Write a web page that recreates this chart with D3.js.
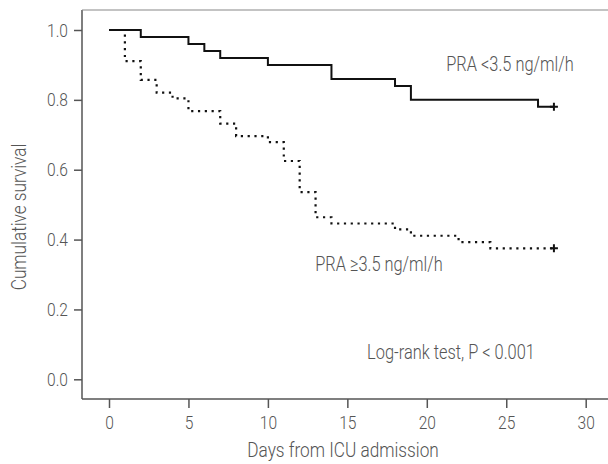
<!DOCTYPE html>
<html>
<head>
<meta charset="utf-8">
<script src="https://cdn.jsdelivr.net/npm/d3@7"></script>
<style>
  body { margin: 0; background: #fff; }
  text { font-family: "Roboto", "Liberation Sans", sans-serif; font-weight: 300; fill: #555; }
</style>
</head>
<body>
<svg width="608" height="464"></svg>
<script>
const svg = d3.select("svg");

// low PRA group (<3.5 ng/ml/h)
const lowDays = [0, 2, 5, 6, 7, 10, 14, 18, 19, 27, 28];
const lowSurv = [1.0, 0.98, 0.96, 0.94, 0.92, 0.90, 0.86, 0.84, 0.80, 0.78, 0.78];
// high PRA group (>=3.5 ng/ml/h)
const highDays = [0, 1, 2, 3, 4, 5, 7, 8, 10, 11, 12, 13, 14, 18, 19, 22, 24, 28];
const highSurv = [1.0, 0.911, 0.857, 0.821, 0.804, 0.768, 0.732, 0.696, 0.679, 0.625, 0.536, 0.464, 0.446, 0.429, 0.411, 0.393, 0.375, 0.375];

const xTicks = [0, 5, 10, 15, 20, 25, 30];
const yTicks = [0, 0.2, 0.4, 0.6, 0.8, 1.0];

const x = d3.scaleLinear().domain([0, 30]).range([109, 585.7]);
const y = d3.scaleLinear().domain([0, 1]).range([379.3, 30]);

const frameL = 82, frameB = 399, frameT = 10, frameR = 608;
const sx = 0.82; // condensed look

// frame
svg.append("line").attr("x1", frameL).attr("x2", frameL).attr("y1", frameT).attr("y2", frameB)
  .attr("stroke", "#555").attr("stroke-width", 1.5);
svg.append("line").attr("x1", frameL).attr("x2", frameR).attr("y1", frameB).attr("y2", frameB)
  .attr("stroke", "#555").attr("stroke-width", 1.5);
svg.append("line").attr("x1", frameL).attr("x2", frameR).attr("y1", frameT).attr("y2", frameT)
  .attr("stroke", "#888").attr("stroke-width", 1.2);

const xAxis = svg.append("g")
  .attr("transform", `translate(0,${frameB})`)
  .call(d3.axisBottom(x).tickValues(xTicks).tickSize(9).tickPadding(8).tickFormat(d3.format("d")));
const yAxis = svg.append("g")
  .attr("transform", `translate(${frameL},0)`)
  .call(d3.axisLeft(y).tickValues(yTicks).tickSize(8).tickPadding(6).tickFormat(d3.format(".1f")));

[xAxis, yAxis].forEach(a => {
  a.attr("font-family", null);
  a.select(".domain").remove();
  a.selectAll(".tick line").attr("stroke", "#555").attr("stroke-width", 1.5);
  a.selectAll(".tick text").attr("font-size", 19).attr("fill", "#555");
});
xAxis.selectAll(".tick text").attr("transform", `scale(${sx},1)`);
yAxis.selectAll(".tick text").attr("x", -14 / sx).attr("transform", `scale(${sx},1)`);

const line = d3.line()
  .x(d => x(d[0]))
  .y(d => y(d[1]))
  .curve(d3.curveStepAfter);

const lowData = lowDays.map((d, i) => [d, lowSurv[i]]);
const highData = highDays.map((d, i) => [d, highSurv[i]]);

svg.append("path").datum(highData)
  .attr("d", line)
  .attr("fill", "none")
  .attr("stroke", "#111")
  .attr("stroke-width", 2.2)
  .attr("stroke-dasharray", "2.2,4.6");

svg.append("path").datum(lowData)
  .attr("d", line)
  .attr("fill", "none")
  .attr("stroke", "#111")
  .attr("stroke-width", 2);

// censor marks
[lowData[lowData.length - 1], highData[highData.length - 1]].forEach(d => {
  const cx = x(d[0]), cy = y(d[1]);
  svg.append("path")
    .attr("d", `M${cx - 4},${cy}H${cx + 4}M${cx},${cy - 4}V${cy + 4}`)
    .attr("stroke", "#111").attr("stroke-width", 2).attr("fill", "none");
});

// condensed text helper
function label(px, py, size, str, rotate) {
  const g = svg.append("g").attr("transform", `translate(${px},${py})` + (rotate ? " rotate(-90)" : ""));
  g.append("text").attr("transform", `scale(${sx},1)`)
    .attr("text-anchor", "middle").attr("font-size", size).text(str);
}

label(510, 71, 20, "PRA <3.5 ng/ml/h");
label(379, 271, 20, "PRA \u22653.5 ng/ml/h");
label(451, 359, 20, "Log-rank test, P < 0.001");
label(343, 457, 21, "Days from ICU admission");
label(26, 217, 21, "Cumulative survival", true);
</script>
</body>
</html>
